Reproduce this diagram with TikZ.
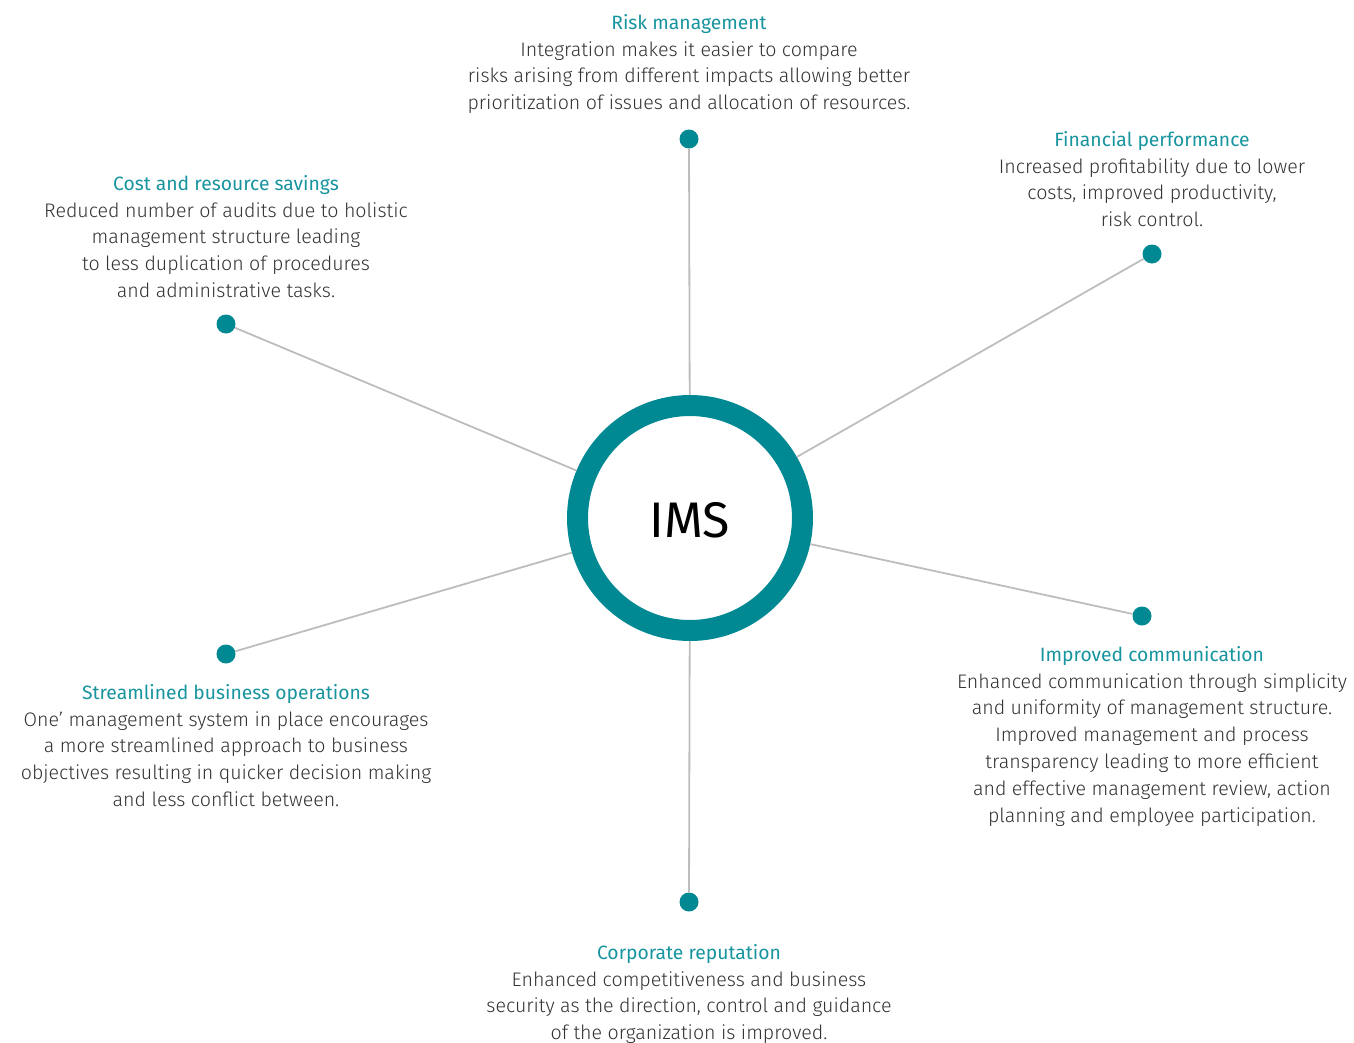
\documentclass[tikz,border=0pt]{standalone}
\usepackage{fontspec}
\setmainfont{Fira Sans}[UprightFont={* Light}, BoldFont={* Medium}]
\newfontfamily\regfont{Fira Sans}
\definecolor{ring}{HTML}{008893}
\definecolor{ttl}{HTML}{17949E}
\definecolor{body}{HTML}{333333}
\definecolor{spoke}{HTML}{BDBDBD}
\newcommand{\hdr}[1]{{\regfont\color{ttl}\fontsize{19.3}{26.7}\selectfont #1}}
\begin{document}
\begin{tikzpicture}[x=1pt,y=-1pt,
  dot/.style={circle,fill=ring,inner sep=0pt,minimum size=19pt},
  spokeline/.style={draw=spoke,line width=1.8pt},
  blk/.style={anchor=north,align=center,inner sep=0pt,text=body,
    font=\fontsize{19.6}{26.8}\selectfont}]
\useasboundingbox (0,0) rectangle (1354,1042);
\node[circle,draw=ring,line width=21pt,minimum size=225pt,inner sep=0pt,fill=white] (ims) at (690,518) {};
\node[font=\regfont\fontsize{50}{56}\selectfont,text=black] (imst) at (690,520) {IMS};
\node[dot] (d1) at (689,139) {};
\node[dot] (d2) at (1152,254) {};
\node[dot] (d3) at (226,324) {};
\node[dot] (d4) at (1142,616) {};
\node[dot] (d5) at (226,654) {};
\node[dot] (d6) at (689,902) {};
\foreach \d in {d1,d2,d3,d4,d5,d6} \draw[spokeline] (\d) -- (ims);
\node[blk] (t1) at (689,14) {\hdr{Risk management}\\Integration makes it easier to compare\\risks arising from different impacts allowing better\\prioritization of issues and allocation of resources.};
\node[blk] (t2) at (1152,131) {\hdr{Financial performance}\\Increased profitability due to lower\\costs, improved productivity,\\risk control.};
\node[blk] (t3) at (226,175) {\hdr{Cost and resource savings}\\Reduced number of audits due to holistic\\management structure leading\\to less duplication of procedures\\and administrative tasks.};
\node[blk] (t4) at (1152,646) {\hdr{Improved communication}\\Enhanced communication through simplicity\\and uniformity of management structure.\\Improved management and process\\transparency leading to more efficient\\and effective management review, action\\planning and employee participation.};
\node[blk] (t5) at (226,684) {\hdr{Streamlined business operations}\\One’ management system in place encourages\\a more streamlined approach to business\\objectives resulting in quicker decision making\\and less conflict between.};
\node[blk] (t6) at (689,944) {\hdr{Corporate reputation}\\Enhanced competitiveness and business\\security as the direction, control and guidance\\of the organization is improved.};
\end{tikzpicture}
\end{document}
